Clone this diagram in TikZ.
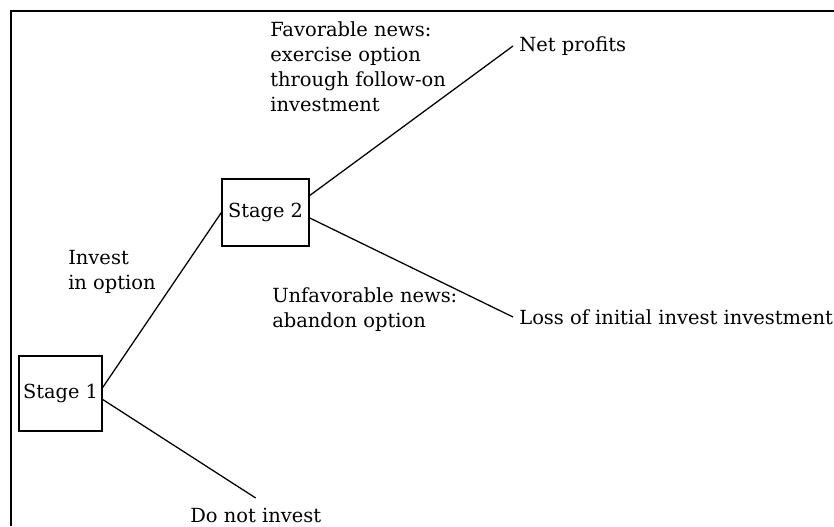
\documentclass[tikz,border=0pt]{standalone}
\usepackage{fontspec}
\setmainfont{DejaVu Serif}
\usetikzlibrary{positioning}

\begin{document}
\begin{tikzpicture}[x=0.75pt,y=0.75pt,yscale=-1,xscale=1,
  stagebox/.style={draw,line width=0.9pt,inner sep=0pt,font=\fontsize{14.5}{18}\selectfont},
  lbl/.style={inner sep=0.75pt,align=left,font=\fontsize{14.6}{18.75}\selectfont},
  outcome/.style={lbl,anchor=west,outer xsep=4pt},
  branch/.style={line width=0.95pt}]
                \useasboundingbox (0,0) rectangle (834,526);
                % frame
                \draw [line width=1.5pt] (834,11) -- (11,11) -- (11,526) ;
                % stages
                \node [stagebox,minimum width=62.25pt,minimum height=56.25pt] (s1) at (60.5,393.5) {Stage 1};
                \node [stagebox,minimum width=65.25pt,minimum height=50.25pt] (s2) at (265.5,212.5) {Stage 2};
                % outcomes
                \node [outcome] (np) at (513,46) {Net profits};
                \node [outcome] (loss) at (513,317) {Loss of initial invest investment};
                \node [lbl,anchor=north west,outer ysep=7pt] (dni) at (189,498) {Do not invest};
                % branch labels
                \node [lbl,anchor=north west] (fav) at (269,20) {Favorable news:\\exercise option\\through follow-on\\investment};
                \node [lbl,anchor=north west] (unf) at (271,286) {Unfavorable news:\\abandon option};
                \node [lbl,anchor=north west] (inv) at (67,249) {Invest\\in option};
                % branches
                \draw [branch] (s1.8) -- (s2.west) ;
                \draw [branch] (s1.-8) -- (dni.north) ;
                \draw [branch] (s2.21) -- (np.west) ;
                \draw [branch] (s2.-7) -- (loss.west) ;
\end{tikzpicture}
\end{document}
